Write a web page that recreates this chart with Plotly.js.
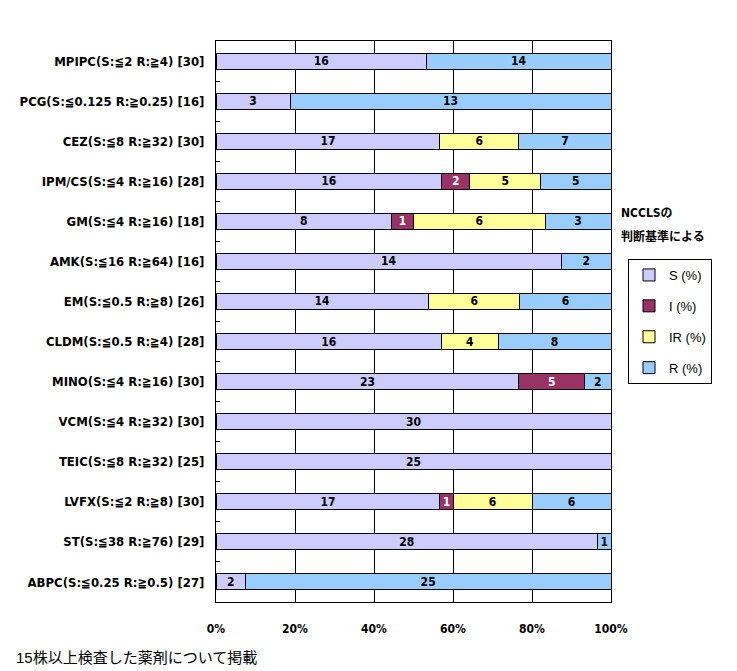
<!DOCTYPE html>
<html>
<head>
<meta charset="utf-8">
<script src="https://cdn.plot.ly/plotly-3.0.1.min.js"></script>
<style>
  html, body { margin: 0; padding: 0; background: #ffffff; }
  #chart { width: 737px; height: 671px; }
</style>
</head>
<body>
<div id="chart"></div>
<script>
// drug categories, top to bottom
const drugs = [
    'MPIPC(S:≦2 R:≧4) [30]',
    'PCG(S:≦0.125 R:≧0.25) [16]',
    'CEZ(S:≦8 R:≧32) [30]',
    'IPM/CS(S:≦4 R:≧16) [28]',
    'GM(S:≦4 R:≧16) [18]',
    'AMK(S:≦16 R:≧64) [16]',
    'EM(S:≦0.5 R:≧8) [26]',
    'CLDM(S:≦0.5 R:≧4) [28]',
    'MINO(S:≦4 R:≧16) [30]',
    'VCM(S:≦4 R:≧32) [30]',
    'TEIC(S:≦8 R:≧32) [25]',
    'LVFX(S:≦2 R:≧8) [30]',
    'ST(S:≦38 R:≧76) [29]',
    'ABPC(S:≦0.25 R:≧0.5) [27]'
];

// strain counts per category (null = none)
const countS  = [16, 3, 17, 16, 8, 14, 14, 16, 23, 30, 25, 17, 28, 2];
const countI  = [null, null, null, 2, 1, null, null, null, 5, null, null, 1, null, null];
const countIR = [null, null, 6, 5, 6, null, 6, 4, null, null, null, 6, null, null];
const countR  = [14, 13, 7, 5, 3, 2, 6, 8, 2, null, null, 6, 1, 25];

const seriesNames = ['S (%)', 'I (%)', 'IR (%)', 'R (%)'];
const xTicks = [0, 20, 40, 60, 80, 100];

const BOLD_FONT = "'Liberation Sans Narrow', 'DejaVu Sans Condensed', 'Noto Sans CJK JP', sans-serif";
const PLAIN_FONT = "'Liberation Sans', Arial, 'Noto Sans CJK JP', sans-serif";

const styles = [
    { fill: '#ccccff', text: '#000000' },
    { fill: '#993366', text: '#ffffff' },
    { fill: '#ffff99', text: '#000000' },
    { fill: '#99ccff', text: '#000000' }
];

function makeTrace(values, idx) {
    return {
        type: 'bar',
        orientation: 'h',
        name: seriesNames[idx],
        legendgroup: 'g' + idx,
        y: drugs,
        x: values,
        text: values.map(v => (v == null ? '' : String(v))),
        textposition: 'inside',
        insidetextanchor: 'middle',
        constraintext: 'none',
        textangle: 0,
        textfont: { family: BOLD_FONT, size: 12, weight: 'bold', color: styles[idx].text },
        marker: { color: styles[idx].fill, line: { color: '#000000', width: 1 } },
        hoverinfo: 'skip'
    };
}

const traces = [countS, countI, countIR, countR].map(makeTrace);

const plotW = 737 - 216 - 126;
const plotH = 671 - 41 - 69;
// pixel -> paper helpers
const px = x => (x - 216) / plotW;
const py = y => 1 - (y - 41) / plotH;

const layout = {
    width: 737,
    height: 671,
    margin: { l: 216, r: 126, t: 41, b: 69 },
    paper_bgcolor: '#ffffff',
    plot_bgcolor: '#ffffff',
    barmode: 'stack',
    barnorm: 'percent',
    bargap: 0.6,
    showlegend: true,
    legend: {
        x: px(628), y: py(259),
        traceorder: 'grouped',
        tracegroupgap: 11,
        bordercolor: '#000000',
        borderwidth: 1,
        bgcolor: '#ffffff',
        font: { family: PLAIN_FONT, size: 13, color: '#000000' },
        xanchor: 'left',
        yanchor: 'top'
    },
    xaxis: {
        range: [0, 100],
        tickvals: xTicks,
        ticktext: xTicks.map(v => v + '%'),
        showgrid: true,
        gridcolor: '#000000',
        gridwidth: 1,
        zeroline: false,
        showline: true,
        linecolor: '#000000',
        linewidth: 1,
        mirror: true,
        ticks: '',
        ticklabelstandoff: 16,
        tickfont: { family: BOLD_FONT, size: 12, weight: 'bold', color: '#000000' },
        fixedrange: true
    },
    yaxis: {
        type: 'category',
        autorange: 'reversed',
        showline: true,
        linecolor: '#000000',
        linewidth: 1,
        mirror: true,
        ticks: 'inside',
        tickson: 'boundaries',
        ticklen: 4,
        tickcolor: '#000000',
        showgrid: false,
        ticklabelstandoff: 8,
        tickfont: { family: BOLD_FONT, size: 13, weight: 'bold', color: '#000000' },
        fixedrange: true
    },
    annotations: [
        {
            text: 'NCCLSの',
            xref: 'paper', yref: 'paper',
            x: px(619), y: py(213),
            xanchor: 'left', yanchor: 'middle',
            showarrow: false,
            font: { family: BOLD_FONT, size: 12, weight: 'bold', color: '#000000' }
        },
        {
            text: '判断基準による',
            xref: 'paper', yref: 'paper',
            x: px(619), y: py(236),
            xanchor: 'left', yanchor: 'middle',
            showarrow: false,
            font: { family: BOLD_FONT, size: 12, weight: 'bold', color: '#000000' }
        },
        {
            text: '15株以上検査した薬剤について掲載',
            xref: 'paper', yref: 'paper',
            x: px(14), y: py(657),
            xanchor: 'left', yanchor: 'middle',
            showarrow: false,
            font: { family: PLAIN_FONT, size: 15, color: '#000000' }
        }
    ]
};

Plotly.newPlot('chart', traces, layout, { displayModeBar: false, staticPlot: true });
</script>
</body>
</html>
